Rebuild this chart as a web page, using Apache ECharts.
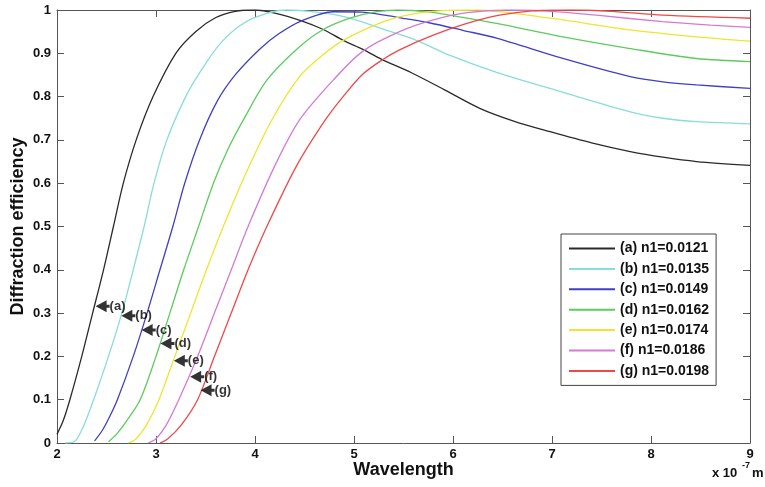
<!DOCTYPE html>
<html><head><meta charset="utf-8">
<script src="https://cdn.jsdelivr.net/npm/echarts/dist/echarts.min.js"></script>
<style>html,body{margin:0;padding:0;background:#fff}#c{width:765px;height:487px}</style>
</head><body><div id="c"></div>
<script>
const FONT = "'Liberation Sans', Arial, sans-serif";

const seriesNames = ['(a) n1=0.0121','(b) n1=0.0135','(c) n1=0.0149','(d) n1=0.0162','(e) n1=0.0174','(f) n1=0.0186','(g) n1=0.0198'];
const seriesColors = ['#2a2a2a','#86ded6','#3f3fc8','#5ccc5c','#eee530','#d47ad6','#f04848'];

const curveA = [[2.00,0.02],[2.06,0.05],[2.13,0.10],[2.25,0.20],[2.36,0.30],[2.47,0.40],[2.57,0.50],[2.67,0.60],[2.80,0.70],[2.97,0.80],[3.20,0.90],[3.40,0.95],[3.60,0.982],[3.80,0.997],[4.00,1.00],[4.20,0.993],[4.47,0.975],[4.69,0.955],[4.89,0.93],[5.09,0.909],[5.28,0.886],[5.58,0.855],[5.92,0.815],[6.27,0.773],[6.62,0.743],[6.98,0.719],[7.40,0.693],[7.79,0.673],[8.12,0.66],[8.46,0.650],[9.00,0.641]];
const curveB = [[2.08,0.0],[2.18,0.004],[2.27,0.04],[2.37,0.10],[2.52,0.20],[2.655,0.30],[2.77,0.40],[2.88,0.50],[2.98,0.60],[3.11,0.70],[3.30,0.80],[3.44,0.855],[3.65,0.923],[3.88,0.969],[4.12,0.992],[4.32,1.0],[4.55,0.997],[4.79,0.99],[5.01,0.978],[5.30,0.955],[5.63,0.93],[5.97,0.895],[6.44,0.856],[7.11,0.81],[7.79,0.765],[8.12,0.75],[8.46,0.742],[9.00,0.737]];
const curveC = [[2.38,0.005],[2.46,0.03],[2.53,0.06],[2.61,0.10],[2.77,0.20],[2.91,0.30],[3.04,0.40],[3.17,0.50],[3.29,0.60],[3.44,0.70],[3.62,0.79],[3.80,0.85],[4.05,0.91],[4.24,0.945],[4.47,0.975],[4.79,0.996],[5.08,0.995],[5.31,0.988],[5.52,0.98],[5.77,0.97],[6.10,0.953],[6.44,0.935],[7.11,0.888],[7.79,0.846],[8.12,0.834],[8.46,0.827],[9.00,0.819]];
const curveD = [[2.52,0.003],[2.60,0.02],[2.70,0.05],[2.84,0.10],[3.00,0.20],[3.14,0.30],[3.28,0.40],[3.43,0.50],[3.58,0.60],[3.73,0.68],[3.88,0.745],[4.12,0.838],[4.45,0.915],[4.69,0.955],[4.96,0.981],[5.23,0.996],[5.45,1.0],[5.77,0.995],[6.10,0.983],[6.44,0.969],[7.11,0.938],[7.79,0.911],[8.46,0.888],[9.00,0.881]];
const curveE = [[2.72,0.0],[2.80,0.01],[2.90,0.04],[3.03,0.10],[3.19,0.20],[3.35,0.30],[3.51,0.40],[3.68,0.50],[3.90,0.619],[4.17,0.746],[4.45,0.846],[4.69,0.897],[4.89,0.93],[5.30,0.973],[5.63,0.992],[5.95,0.999],[6.25,1.0],[6.60,0.993],[7.11,0.977],[7.79,0.954],[8.46,0.938],[9.00,0.928]];
const curveF = [[2.92,0.0],[3.00,0.01],[3.10,0.04],[3.23,0.10],[3.42,0.20],[3.59,0.30],[3.76,0.40],[3.93,0.50],[4.20,0.64],[4.45,0.746],[4.79,0.838],[5.09,0.905],[5.46,0.95],[5.80,0.977],[6.14,0.994],[6.55,1.0],[7.00,0.997],[7.45,0.988],[8.12,0.973],[8.60,0.965],[9.00,0.96]];
const curveG = [[3.04,0.0],[3.12,0.01],[3.25,0.04],[3.42,0.10],[3.59,0.20],[3.76,0.30],[3.93,0.40],[4.13,0.505],[4.42,0.64],[4.71,0.746],[4.89,0.80],[5.09,0.852],[5.28,0.884],[5.46,0.908],[5.80,0.942],[6.14,0.969],[6.47,0.988],[6.80,0.998],[7.20,1.0],[7.60,0.997],[8.12,0.988],[9.00,0.981]];

const annotX = [2.39, 2.65, 2.855, 3.045, 3.18, 3.345, 3.45];
const annotY = [0.316, 0.294, 0.261, 0.23, 0.19, 0.153, 0.122];
const annotText = ['(a)','(b)','(c)','(d)','(e)','(f)','(g)'];

const xMin = 2, xMax = 9, xStep = 1;
const yMin = 0, yMax = 1, yStep = 0.1;

const curves = [curveA, curveB, curveC, curveD, curveE, curveF, curveG];

const axisColor = '#555';
const chart = echarts.init(document.getElementById('c'), null, {renderer: 'canvas'});

const lineSeries = curves.map((d, i) => ({
  name: seriesNames[i],
  type: 'line',
  data: d,
  xAxisIndex: 0, yAxisIndex: 0,
  showSymbol: false, symbol: 'none',
  smooth: 0.3,
  lineStyle: {color: seriesColors[i], width: 1.3},
  itemStyle: {color: seriesColors[i]},
  emphasis: {disabled: true},
  animation: false,
  z: 2
}));

const annotSeries = {
  type: 'scatter',
  xAxisIndex: 0, yAxisIndex: 0,
  data: annotX.map((x, i) => [x, annotY[i], annotText[i]]),
  symbol: 'path://M0,6 L11,0 L11,4.5 L14,4.5 L14,7.5 L11,7.5 L11,12 Z',
  symbolSize: [14, 12],
  symbolOffset: [7, 0],
  itemStyle: {color: '#000'},
  label: {
    show: true, position: 'right', distance: 0,
    formatter: p => p.data[2],
    color: '#000', fontSize: 13, fontWeight: 'bold', fontFamily: FONT
  },
  emphasis: {disabled: true},
  silent: true,
  animation: false,
  z: 5
};

const baseX = {
  type: 'value', min: xMin, max: xMax, interval: xStep,
  axisLine: {show: true, onZero: false, lineStyle: {color: axisColor, width: 1}},
  axisTick: {show: true, inside: true, length: 7, lineStyle: {color: axisColor}},
  splitLine: {show: false}
};
const baseY = {
  type: 'value', min: yMin, max: yMax, interval: yStep,
  axisLine: {show: true, onZero: false, lineStyle: {color: axisColor, width: 1}},
  axisTick: {show: true, inside: true, length: 7, lineStyle: {color: axisColor}},
  splitLine: {show: false}
};

chart.setOption({
  animation: false,
  backgroundColor: '#fff',
  grid: {left: 57, right: 15, top: 10, bottom: 44, containLabel: false, outerBoundsMode: 'none'},
  xAxis: [
    Object.assign({}, baseX, {
      position: 'bottom',
      axisLabel: {show: true, color: '#111', fontSize: 13, fontWeight: 'bold', fontFamily: FONT, margin: 5},
      name: 'Wavelength', nameLocation: 'middle', nameGap: 18, nameMoveOverlap: false,
      nameTextStyle: {color: '#111', fontSize: 18, fontWeight: 'bold', fontFamily: FONT}
    }),
    Object.assign({}, baseX, {position: 'top', axisLabel: {show: false}})
  ],
  yAxis: [
    Object.assign({}, baseY, {
      position: 'left',
      axisLabel: {show: true, color: '#111', fontSize: 13, fontWeight: 'bold', fontFamily: FONT, margin: 6,
        formatter: v => String(+v.toFixed(1))},
      name: 'Diffraction efficiency', nameLocation: 'middle', nameGap: 30, nameMoveOverlap: false,
      nameTextStyle: {color: '#111', fontSize: 18, fontWeight: 'bold', fontFamily: FONT}
    }),
    Object.assign({}, baseY, {position: 'right', axisLabel: {show: false}})
  ],
  legend: {
    data: seriesNames,
    orient: 'vertical',
    left: 561, top: 234,
    padding: [7, 7, 7, 8],
    itemWidth: 46, itemHeight: 2, icon: 'rect',
    itemGap: 5.4,
    textStyle: {color: '#111', fontSize: 14, fontWeight: 'bold', fontFamily: FONT, lineHeight: 15},
    borderColor: '#444', borderWidth: 1, backgroundColor: '#fff',
    selectedMode: false
  },
  tooltip: {show: false},
  series: lineSeries.concat([annotSeries]),
  graphic: [
    {type: 'text', left: 712, top: 467, style: {text: 'x 10', fill: '#111', font: 'bold 13px ' + FONT}},
    {type: 'text', left: 742, top: 461, style: {text: '-7', fill: '#111', font: 'bold 9px ' + FONT}},
    {type: 'text', left: 752, top: 467, style: {text: 'm', fill: '#111', font: 'bold 13px ' + FONT}}
  ]
});
</script>
</body></html>
